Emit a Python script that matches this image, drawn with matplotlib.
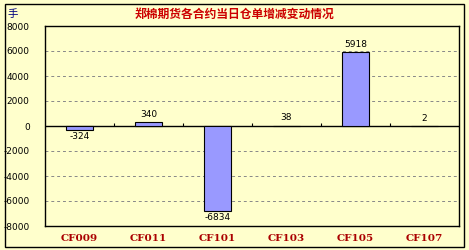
import numpy as np
import matplotlib.pyplot as plt
from matplotlib.patches import Rectangle

plt.rcParams['font.family'] = ['Noto Sans CJK SC', 'DejaVu Sans']

contracts = ['CF009', 'CF011', 'CF101', 'CF103', 'CF105', 'CF107']
changes = [-324, 340, -6834, 38, 5918, 2]
yticks = [-8000, -6000, -4000, -2000, 0, 2000, 4000, 6000, 8000]

bg = '#FFFFCC'
bar_c = '#9999FF'

fig = plt.figure(figsize=(4.69, 2.5), dpi=100, facecolor=bg)
ax = fig.add_axes([45/469, 24/250, 414/469, 200/250])
ax.set_facecolor(bg)

x = np.arange(len(contracts))
ax.bar(x, changes, width=0.4, color=bar_c, edgecolor='black', linewidth=0.8, zorder=5)

for xi, v in zip(x, changes):
    if v >= 0:
        ax.text(xi, v + 250, str(v), ha='center', va='bottom', fontsize=6.5, family='DejaVu Sans')
    else:
        ax.text(xi, v - 150, str(v), ha='center', va='top', fontsize=6.5, family='DejaVu Sans')

ax.set_xlim(-0.5, len(contracts) - 0.5)
ax.set_ylim(-8000, 8000)
ax.set_yticks(yticks)
ax.set_yticklabels([str(t) for t in yticks], fontsize=6.5, family='DejaVu Sans')
ax.tick_params(axis='y', length=0, pad=11)
ax.set_xticks(x)
ax.set_xticklabels(contracts, fontsize=7.5, fontweight='bold', color='#AA0000', family='DejaVu Serif')
ax.tick_params(axis='x', length=0, pad=6)

for t in yticks:
    if t != 0:
        ax.axhline(t, color='#888888', linestyle=(0, (3, 3)), linewidth=0.7, zorder=1)
ax.axhline(0, color='black', linewidth=1, zorder=4)
ax.vlines(x[:-1] + 0.5, 0, 250, color='black', linewidth=0.8, zorder=4)

for s in ax.spines.values():
    s.set_color('black')
    s.set_linewidth(1)

fig.text(0.5, 1 - 14/250, '郑棉期货各合约当日仓单增减变动情况', ha='center', va='center',
         fontsize=8.5, fontweight='bold', color='#CC0000')
fig.text(8/469, 1 - 14/250, '手', ha='left', va='center', fontsize=7.5, color='#000080')

fig.patches.append(Rectangle((5/469, 3/250), 459/469, 243/250, transform=fig.transFigure,
                             fill=False, edgecolor='black', linewidth=1))

fig.savefig('out.png', dpi=100, facecolor=bg)
